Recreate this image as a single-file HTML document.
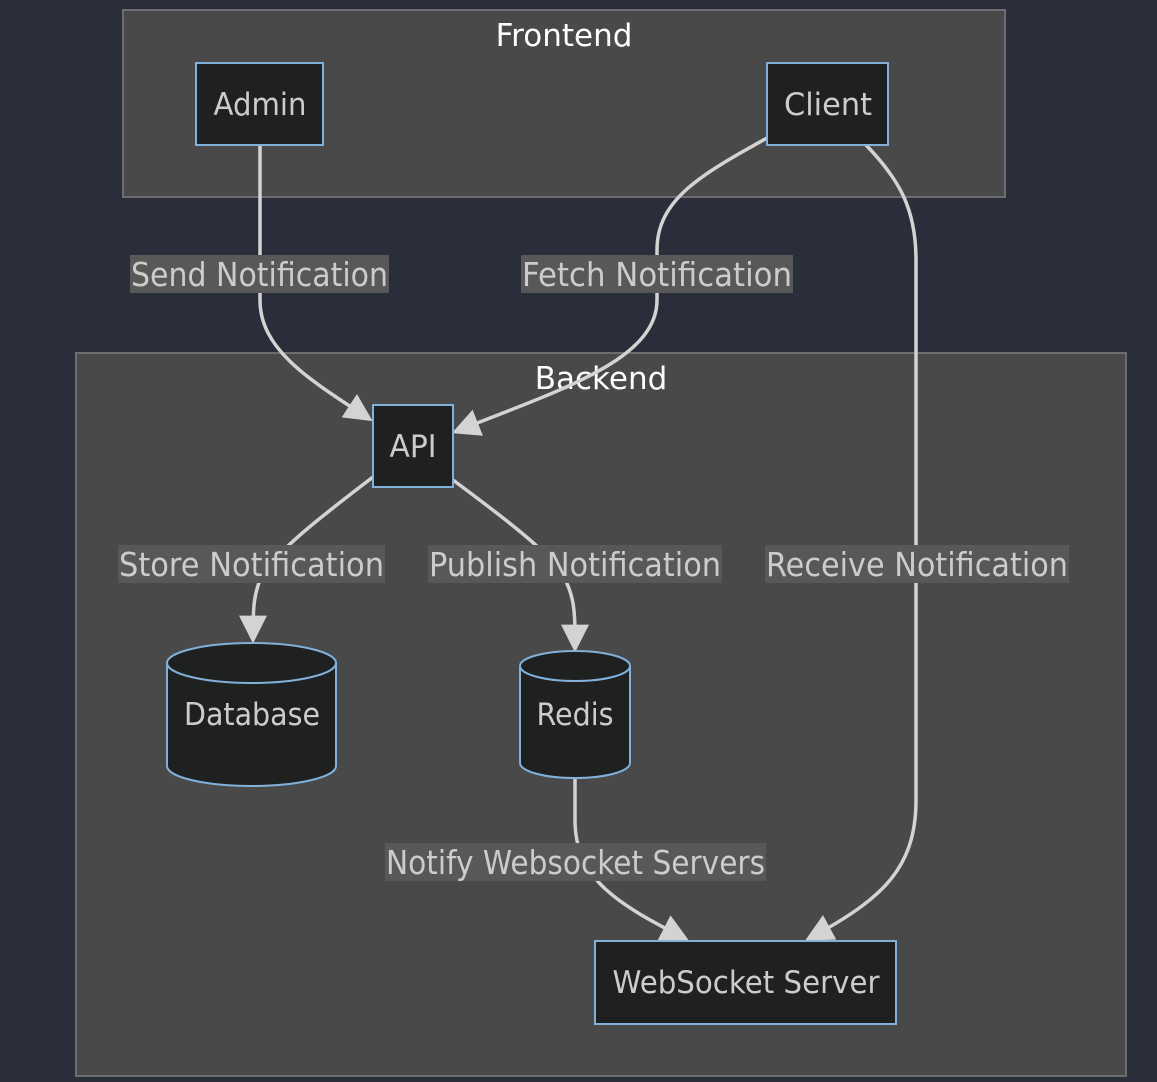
<!DOCTYPE html>
<html><head><meta charset="utf-8"><style>
html,body{margin:0;padding:0;background:#2a2e3a;}
svg{display:block}
text{font-family:"DejaVu Sans","Liberation Sans",sans-serif;}
</style></head><body>
<svg width="1157" height="1082" viewBox="0 0 1157 1082" xmlns="http://www.w3.org/2000/svg">
<defs>
<marker id="ar" viewBox="0 0 10 10" refX="8" refY="5" markerWidth="8" markerHeight="8" orient="auto">
<path d="M0,0 L10,5 L0,10 z" fill="#d3d3d3"/>
</marker>
</defs>
<rect width="1157" height="1082" fill="#2a2e3a"/>
<rect x="123" y="10" width="882" height="187" fill="#484948" stroke="#6b6d70" stroke-width="2"/>
<rect x="76" y="353" width="1050" height="723" fill="#484948" stroke="#6b6d70" stroke-width="2"/>
<text x="564" y="46" fill="#ffffff" font-size="31" text-anchor="middle">Frontend</text>
<text x="601" y="389" fill="#ffffff" font-size="31" text-anchor="middle">Backend</text>

<g fill="none" stroke="#d3d3d3" stroke-width="3.5" marker-end="url(#ar)">
<path d="M260,145 L260,300 C260,350 310,380 368,418"/>
<path d="M767,138 C700,175 657,200 657,250 L657,300 C657,360 560,390 457,431"/>
<path d="M866,145 C900,180 916,210 916,260 L916,800 C916,870 880,900 810,938"/>
<path d="M373,477 C330,510 290,540 265,570 C253,590 253,610 253,638"/>
<path d="M453,480 C500,515 540,545 560,570 C575,595 575,610 575,647"/>
<path d="M575,778 L575,820 C575,880 620,905 684,938"/>
</g>

<g fill="#585858">
<rect x="130" y="255" width="259" height="38"/>
<rect x="521" y="255" width="272" height="38"/>
<rect x="118" y="545" width="267" height="38"/>
<rect x="428" y="545" width="294" height="38"/>
<rect x="765" y="545" width="304" height="38"/>
<rect x="385" y="843" width="381" height="38"/>
</g>
<g fill="#cccccc" font-size="33">
<text x="131" y="286" textLength="257" lengthAdjust="spacingAndGlyphs">Send Notification</text>
<text x="522" y="286" textLength="270" lengthAdjust="spacingAndGlyphs">Fetch Notification</text>
<text x="119" y="576" textLength="265" lengthAdjust="spacingAndGlyphs">Store Notification</text>
<text x="429" y="576" textLength="292" lengthAdjust="spacingAndGlyphs">Publish Notification</text>
<text x="766" y="576" textLength="302" lengthAdjust="spacingAndGlyphs">Receive Notification</text>
<text x="386" y="874" textLength="379" lengthAdjust="spacingAndGlyphs">Notify Websocket Servers</text>
</g>

<g fill="#1f2020" stroke="#81b1db" stroke-width="2">
<rect x="196" y="63" width="127" height="82"/>
<rect x="767" y="63" width="121" height="82"/>
<rect x="373" y="405" width="80" height="82"/>
<rect x="595" y="941" width="301" height="83"/>
<path d="M167,663 A84.5,20 0 0 1 336,663 L336,766 A84.5,20 0 0 1 167,766 Z"/>
<path d="M167,663 A84.5,20 0 0 0 336,663" fill="none"/>
<path d="M520,666 A55,15 0 0 1 630,666 L630,763 A55,15 0 0 1 520,763 Z"/>
<path d="M520,666 A55,15 0 0 0 630,666" fill="none"/>
</g>
<g fill="#cccccc" font-size="31" text-anchor="middle">
<text x="260" y="115" textLength="93" lengthAdjust="spacingAndGlyphs">Admin</text>
<text x="828" y="115" textLength="88" lengthAdjust="spacingAndGlyphs">Client</text>
<text x="413" y="457" textLength="47" lengthAdjust="spacingAndGlyphs">API</text>
<text x="252" y="725" textLength="136" lengthAdjust="spacingAndGlyphs">Database</text>
<text x="575" y="725" textLength="77" lengthAdjust="spacingAndGlyphs">Redis</text>
<text x="746" y="993" textLength="267" lengthAdjust="spacingAndGlyphs">WebSocket Server</text>
</g>
</svg>
</body></html>
